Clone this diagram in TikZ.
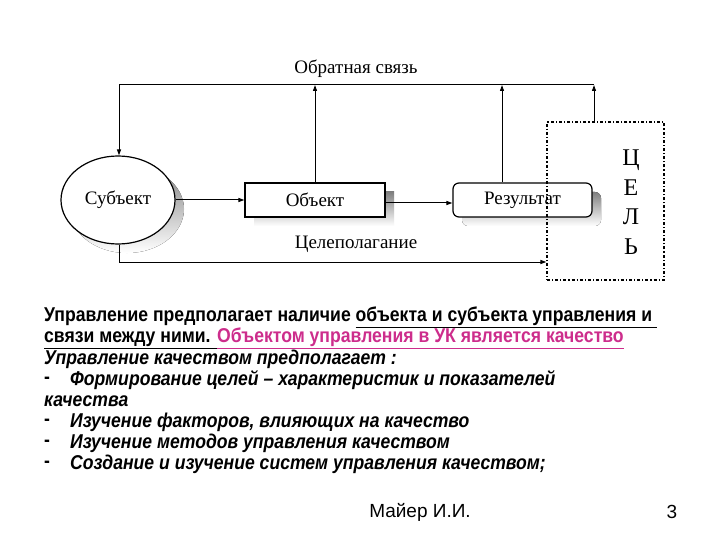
\documentclass[tikz,border=0pt]{standalone}
\usepackage{fontspec}
\setmainfont{Liberation Serif}
\newfontfamily\txt[FakeStretch=0.88]{Liberation Sans}
\newfontfamily\foot{Liberation Sans}
\usetikzlibrary{arrows.meta,shapes.geometric}
\definecolor{shade}{RGB}{195,195,195}
\definecolor{mag}{RGB}{205,45,140}
\begin{document}
\begin{tikzpicture}[x=1pt,y=-1pt,
  conn/.style={line width=1pt,-{Triangle[length=6pt,width=4pt]}},
  lbl/.style={font=\fontsize{19}{21}\selectfont},
  tline/.style={anchor=west,inner sep=0pt,font=\txt\fontsize{20}{22}\selectfont\bfseries},
  iline/.style={tline,font=\txt\fontsize{20}{22}\selectfont\bfseries\itshape}]
\useasboundingbox[fill=white] (0,0) rectangle (720,540);
% shadows
\fill[shade] (127,209) ellipse (57 and 44);
\fill[shade] (254,192) rectangle (394,226);
\fill[shade,rounded corners=6pt] (462,192) rectangle (601,226);
% nodes
\node[draw,line width=1.2pt,fill=white,ellipse,minimum width=114pt,minimum height=88pt,inner sep=0pt,lbl] (s) at (118,200) {Субъект};
\node[draw,line width=1.2pt,fill=white,minimum width=140pt,minimum height=34pt,inner sep=0pt,lbl] (o) at (315,200) {Объект};
\node[draw,line width=1.2pt,fill=white,rounded corners=6pt,minimum width=139pt,minimum height=34pt,inner sep=0pt,lbl] (r) at (522.5,200) {Результат};
\node[draw,line width=1.2pt,dash dot,minimum width=117pt,minimum height=158pt,inner sep=0pt] (g) at (605.5,201) {};
\foreach \l/\y in {Ц/160,Е/188,Л/217,Ь/247} \node[font=\fontsize{24}{24}\selectfont] at (631,\y) {\l};
% labels
\node[lbl] (fb) at (356,69) {Обратная связь};
\node[lbl] (cp) at (356,244) {Целеполагание};
% connectors
\coordinate (tl) at (119,85);
\coordinate (tr) at (594,85);
\draw[line width=1pt] (tr) -- (tl);
\draw[conn] (tl) -- (s.north -| tl);
\draw[conn] (o.north) -- (o.north |- tl);
\draw[conn] (r.north -| 502,0) -- (502,85);
\draw[conn] (594,122) -- (tr);
\draw[conn] (s.east) -- (o.west);
\draw[conn] (o.east |- 0,203) -- (r.west |- 0,203);
\coordinate (bl) at (119,262);
\draw[conn] (s.south -| bl) -- (bl) -- (bl -| g.west);
% text
\node[tline] (t1) at (44,317) {Управление предполагает наличие \underline{объекта и субъекта управления и }};
\node[tline] (t2) at (44,338) {\underline{связи между ними. }\textcolor{mag}{\underline{Объектом управления в УК является качество}}};
\node[iline] (t3) at (44,359) {Управление качеством предполагает :};
\node[tline] at (44,380) {-};
\node[iline] at (70,380) {Формирование целей – характеристик и показателей};
\node[iline] at (44,401) {качества};
\node[tline] at (44,422) {-};
\node[iline] at (70,422) {Изучение факторов, влияющих на качество};
\node[tline] at (44,443) {-};
\node[iline] at (70,443) {Изучение методов управления качеством};
\node[tline] at (44,464) {-};
\node[iline] at (70,464) {Создание и изучение систем управления качеством;};
\node[font=\foot\fontsize{19}{21}\selectfont] (au) at (420,512) {Майер И.И.};
\node[font=\foot\fontsize{19}{21}\selectfont] (pg) at (672,512) {3};
\end{tikzpicture}
\end{document}
